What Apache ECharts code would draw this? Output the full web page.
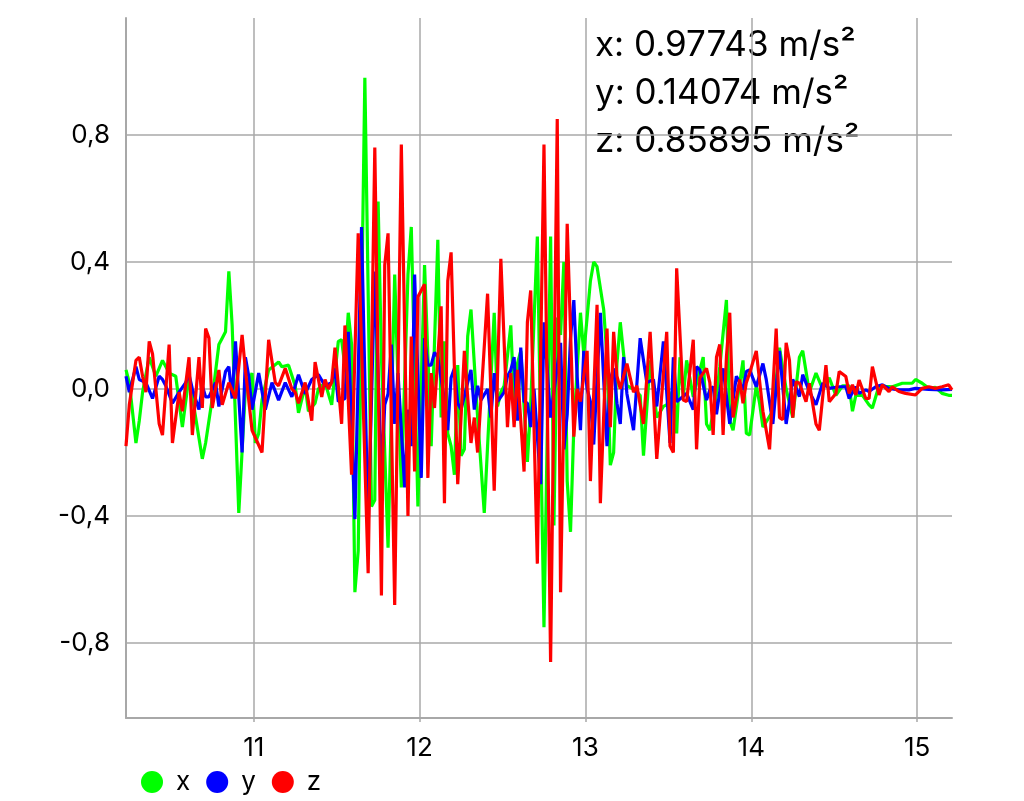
<!DOCTYPE html>
<html>
<head>
<meta charset="utf-8">
<script src="https://cdn.jsdelivr.net/npm/echarts/dist/echarts.min.js"></script>
<style>
html,body{margin:0;padding:0;background:#fff;}
#chart{width:1024px;height:801px;}
</style>
</head>
<body>
<div id="chart"></div>
<script>
// ---- data: [time (s), acceleration (m/s²)] ----
const accX = [[10.23,0.06],[10.25,0.02],[10.29,-0.17],[10.31,-0.10],[10.33,-0.01],[10.37,0.10],[10.39,0.07],[10.41,0.04],[10.45,0.09],[10.49,0.05],[10.53,0.04],[10.57,-0.12],[10.61,0.04],[10.65,-0.09],[10.69,-0.22],[10.71,-0.17],[10.75,-0.03],[10.79,0.14],[10.81,0.16],[10.83,0.18],[10.85,0.37],[10.87,0.20],[10.91,-0.39],[10.95,0.00],[10.99,0.05],[11.01,-0.17],[11.03,-0.14],[11.05,-0.035],[11.09,0.06],[11.15,0.085],[11.17,0.07],[11.21,0.075],[11.25,0.01],[11.27,-0.075],[11.31,0.01],[11.33,-0.07],[11.37,-0.045],[11.39,0.0],[11.43,0.02],[11.47,-0.05],[11.51,0.15],[11.53,0.155],[11.55,0.07],[11.57,0.24],[11.59,0.14],[11.61,-0.64],[11.63,-0.51],[11.67,0.98],[11.71,-0.37],[11.73,-0.35],[11.75,0.59],[11.77,0.10],[11.81,-0.50],[11.85,0.36],[11.89,-0.31],[11.93,0.36],[11.95,0.51],[11.99,-0.37],[12.03,0.39],[12.07,-0.18],[12.11,0.47],[12.13,-0.09],[12.15,0.15],[12.17,-0.14],[12.19,-0.18],[12.21,-0.27],[12.23,0.075],[12.25,-0.21],[12.27,-0.19],[12.29,0.165],[12.31,0.25],[12.35,-0.09],[12.39,-0.39],[12.45,0.24],[12.47,-0.055],[12.49,-0.01],[12.51,0.01],[12.55,0.20],[12.57,-0.05],[12.59,0.08],[12.61,0.12],[12.65,-0.23],[12.67,-0.05],[12.71,0.48],[12.75,-0.75],[12.79,0.48],[12.81,-0.43],[12.83,0.225],[12.85,0.17],[12.87,0.40],[12.89,-0.29],[12.91,-0.45],[12.93,-0.12],[12.97,0.24],[12.99,0.11],[13.03,0.34],[13.05,0.40],[13.07,0.385],[13.11,0.25],[13.13,0.10],[13.15,-0.24],[13.17,-0.20],[13.19,0.08],[13.21,0.21],[13.25,0.01],[13.29,0.0],[13.33,-0.02],[13.35,-0.21],[13.39,0.09],[13.43,-0.09],[13.47,-0.055],[13.49,-0.05],[13.53,0.0],[13.55,-0.14],[13.57,0.10],[13.59,-0.025],[13.61,0.09],[13.65,-0.025],[13.69,0.06],[13.71,0.10],[13.73,-0.11],[13.75,-0.13],[13.79,-0.02],[13.81,0.07],[13.85,0.28],[13.87,-0.10],[13.89,-0.13],[13.95,0.09],[13.97,-0.14],[13.99,-0.145],[14.03,0.01],[14.05,-0.045],[14.07,-0.12],[14.13,-0.07],[14.17,0.13],[14.21,0.0],[14.25,-0.09],[14.29,0.10],[14.31,0.12],[14.35,-0.01],[14.39,0.05],[14.43,0.0],[14.47,0.035],[14.51,-0.02],[14.55,0.01],[14.59,0.01],[14.61,-0.07],[14.63,-0.02],[14.67,-0.02],[14.71,-0.05],[14.73,-0.06],[14.77,0.01],[14.81,0.008],[14.85,0.007],[14.91,0.018],[14.97,0.018],[14.99,0.03],[15.03,0.018],[15.07,0.002],[15.11,0.005],[15.15,-0.014],[15.19,-0.02],[15.21,-0.02]];

const accY = [[10.23,0.04],[10.25,-0.01],[10.29,0.07],[10.31,0.03],[10.35,0.02],[10.39,-0.03],[10.43,0.04],[10.45,0.03],[10.47,0.01],[10.51,-0.045],[10.55,-0.01],[10.59,0.02],[10.61,0.045],[10.63,0.0],[10.67,-0.065],[10.69,0.01],[10.71,-0.025],[10.73,-0.025],[10.77,0.02],[10.79,-0.055],[10.83,0.055],[10.85,0.07],[10.87,-0.03],[10.89,0.15],[10.93,-0.20],[10.95,0.10],[10.97,0.04],[10.99,-0.065],[11.03,0.05],[11.07,-0.065],[11.11,0.02],[11.15,-0.035],[11.19,0.02],[11.23,-0.025],[11.27,0.045],[11.31,-0.015],[11.35,0.03],[11.39,0.045],[11.43,0.01],[11.47,0.02],[11.49,0.065],[11.51,-0.04],[11.55,-0.03],[11.57,0.18],[11.61,-0.41],[11.65,0.51],[11.69,-0.44],[11.73,0.37],[11.77,-0.27],[11.79,-0.05],[11.81,-0.015],[11.83,0.14],[11.85,-0.11],[11.87,0.05],[11.91,-0.31],[11.93,-0.065],[11.95,-0.18],[11.97,0.36],[12.01,-0.28],[12.03,0.16],[12.05,0.075],[12.07,0.075],[12.09,0.115],[12.11,0.10],[12.15,-0.035],[12.17,-0.13],[12.19,0.035],[12.21,0.065],[12.23,-0.045],[12.25,-0.065],[12.29,0.02],[12.31,0.06],[12.33,-0.065],[12.35,0.01],[12.37,-0.035],[12.41,0.0],[12.43,-0.09],[12.45,0.05],[12.47,-0.04],[12.49,-0.025],[12.51,-0.01],[12.53,0.04],[12.55,0.06],[12.57,0.10],[12.59,-0.10],[12.61,0.13],[12.63,-0.04],[12.65,-0.045],[12.67,-0.12],[12.69,0.0],[12.73,-0.30],[12.75,0.21],[12.79,-0.09],[12.83,0.07],[12.85,0.145],[12.87,-0.19],[12.89,-0.08],[12.91,0.16],[12.93,0.28],[12.95,0.04],[12.97,-0.13],[12.99,0.12],[13.01,0.0],[13.03,-0.04],[13.05,-0.175],[13.09,0.24],[13.13,-0.18],[13.15,0.03],[13.17,0.065],[13.19,-0.045],[13.21,-0.11],[13.23,0.10],[13.25,-0.015],[13.29,-0.13],[13.33,0.16],[13.37,0.02],[13.41,0.03],[13.43,-0.055],[13.47,0.15],[13.51,-0.17],[13.53,0.10],[13.55,-0.04],[13.61,-0.014],[13.65,-0.065],[13.67,0.07],[13.69,0.06],[13.73,-0.035],[13.75,-0.003],[13.77,0.007],[13.79,-0.08],[13.83,0.065],[13.87,-0.11],[13.91,0.04],[13.93,0.02],[13.95,-0.003],[13.97,0.055],[13.99,0.06],[14.03,0.007],[14.07,0.08],[14.09,0.03],[14.13,-0.11],[14.17,0.12],[14.21,-0.11],[14.25,0.03],[14.29,-0.024],[14.31,0.045],[14.35,-0.008],[14.39,-0.05],[14.43,0.018],[14.47,0.002],[14.53,0.007],[14.57,0.007],[14.59,-0.03],[14.63,0.007],[14.65,-0.014],[14.69,-0.003],[14.71,-0.008],[14.75,0.007],[14.79,0.013],[14.83,0.002],[14.89,-0.003],[14.95,-0.003],[14.99,0.002],[15.07,-0.001],[15.15,-0.003],[15.21,-0.001]];

const accZ = [[10.23,-0.18],[10.25,-0.05],[10.29,0.09],[10.31,0.10],[10.33,0.04],[10.35,-0.01],[10.37,0.15],[10.39,0.11],[10.43,-0.11],[10.45,-0.145],[10.49,0.14],[10.51,-0.17],[10.55,-0.01],[10.57,-0.07],[10.61,0.10],[10.63,-0.145],[10.67,0.10],[10.69,-0.06],[10.71,0.19],[10.73,0.16],[10.75,-0.06],[10.79,0.06],[10.81,-0.05],[10.85,0.02],[10.89,-0.03],[10.93,0.17],[10.95,0.06],[10.99,-0.13],[11.05,-0.20],[11.09,0.155],[11.13,0.02],[11.15,0.01],[11.19,0.065],[11.23,0.0],[11.25,-0.01],[11.27,-0.045],[11.31,0.02],[11.35,-0.10],[11.37,0.085],[11.41,-0.025],[11.43,0.03],[11.45,0.0],[11.47,0.02],[11.49,0.13],[11.53,-0.11],[11.55,0.20],[11.59,-0.27],[11.63,0.49],[11.69,-0.58],[11.73,0.76],[11.77,-0.65],[11.79,0.39],[11.81,0.49],[11.85,-0.68],[11.89,0.77],[11.93,-0.40],[11.95,0.165],[11.97,-0.26],[11.99,0.29],[12.03,0.33],[12.05,-0.28],[12.07,0.05],[12.09,-0.06],[12.13,0.26],[12.15,-0.36],[12.17,0.34],[12.19,0.43],[12.23,-0.30],[12.27,0.12],[12.31,-0.17],[12.33,-0.09],[12.35,-0.20],[12.41,0.30],[12.45,-0.32],[12.49,0.41],[12.53,-0.12],[12.55,0.05],[12.57,-0.12],[12.59,0.06],[12.63,-0.26],[12.65,0.21],[12.67,0.31],[12.71,-0.55],[12.75,0.77],[12.79,-0.86],[12.83,0.85],[12.85,-0.64],[12.89,0.52],[12.93,-0.15],[12.95,0.0],[12.97,-0.04],[13.01,0.12],[13.03,-0.29],[13.07,0.265],[13.09,-0.36],[13.13,0.19],[13.15,-0.12],[13.17,0.18],[13.19,0.04],[13.21,0.0],[13.25,0.08],[13.29,-0.01],[13.31,0.01],[13.35,-0.11],[13.39,0.18],[13.43,-0.22],[13.49,0.18],[13.51,-0.18],[13.53,-0.20],[13.55,0.38],[13.59,-0.035],[13.61,-0.04],[13.65,0.155],[13.67,-0.19],[13.69,0.035],[13.73,0.065],[13.75,0.02],[13.77,-0.145],[13.79,0.10],[13.81,0.14],[13.83,-0.145],[13.85,0.10],[13.87,0.24],[13.89,-0.09],[13.93,0.03],[13.95,-0.045],[13.97,0.02],[13.99,0.05],[14.03,0.12],[14.07,-0.07],[14.11,-0.19],[14.15,0.19],[14.17,-0.09],[14.19,-0.097],[14.21,0.145],[14.23,0.09],[14.25,-0.09],[14.27,0.023],[14.29,0.018],[14.33,-0.04],[14.35,0.018],[14.39,-0.11],[14.41,-0.13],[14.45,0.075],[14.47,-0.04],[14.51,-0.014],[14.53,0.055],[14.57,0.039],[14.59,-0.014],[14.61,0.013],[14.63,-0.019],[14.65,0.028],[14.69,-0.03],[14.71,-0.03],[14.73,0.07],[14.77,-0.019],[14.79,0.013],[14.83,-0.008],[14.85,0.007],[14.89,-0.008],[14.93,-0.014],[14.99,-0.019],[15.03,0.002],[15.07,0.007],[15.11,0.002],[15.15,0.007],[15.19,0.013],[15.21,-0.003]];

const seriesNames = ['x', 'y', 'z'];
const xTicks = [11, 12, 13, 14, 15];
const yTicks = [-0.8, -0.4, 0, 0.4, 0.8];
const readoutValues = ['0.97743', '0.14074', '0.85895'];
const readoutUnit = 'm/s²';

const FONT = 'Inter, "Noto Sans", sans-serif';
const colors = ['#00ff00', '#0000ff', '#ff0000'];
const seriesData = [accX, accY, accZ];

const chart = echarts.init(document.getElementById('chart'), null, {renderer: 'canvas'});
const gridColor = '#a8a8a8';

chart.setOption({
  animation: false,
  backgroundColor: '#ffffff',
  grid: {left: 126, right: 72, top: 18, bottom: 83, containLabel: false},
  xAxis: {
    type: 'value', min: 10.23, max: 15.21,
    axisLine: {show: true, onZero: false, lineStyle: {color: gridColor, width: 2}},
    axisTick: {show: true, length: 4, customValues: xTicks, lineStyle: {color: gridColor, width: 1.5}},
    axisLabel: {customValues: xTicks, formatter: v => String(v), color: '#000', fontSize: 26, fontFamily: FONT, margin: 17},
    splitLine: {show: true, lineStyle: {color: gridColor, width: 1.5}}
  },
  yAxis: {
    type: 'value', min: -1.036, max: 1.168,
    axisLine: {show: true, onZero: false, lineStyle: {color: gridColor, width: 2}},
    axisTick: {show: false, customValues: yTicks},
    axisLabel: {customValues: yTicks, formatter: v => v.toFixed(1).replace('.', ','), color: '#000', fontSize: 26, fontFamily: FONT, margin: 16},
    splitLine: {show: true, lineStyle: {color: gridColor, width: 1.5}}
  },
  legend: {
    left: 136, top: 764, icon: 'circle', itemWidth: 38, itemHeight: 22, itemGap: 16,
    textStyle: {fontSize: 26, color: '#000', fontFamily: FONT},
    data: seriesNames
  },
  graphic: seriesNames.map((n, i) => ({
    type: 'text', left: 595, top: 28 + i * 48,
    style: {text: n + ': ' + readoutValues[i] + ' ' + readoutUnit, fill: '#000', font: '35px ' + FONT}
  })),
  series: seriesNames.map((n, i) => ({
    name: n, type: 'line', data: seriesData[i], showSymbol: false, symbol: 'circle',
    color: colors[i], lineStyle: {color: colors[i], width: 3.2}, z: 2 + i
  }))
});
</script>
</body>
</html>
